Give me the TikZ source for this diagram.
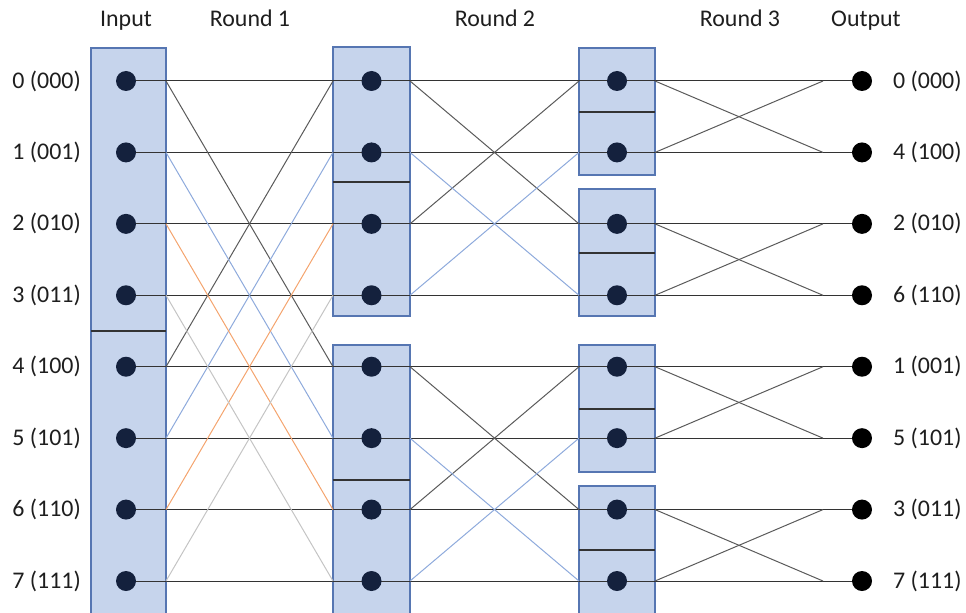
\documentclass[tikz,border=0pt]{standalone}
\usepackage{fontspec}
\setmainfont{Carlito}
\definecolor{boxfill}{HTML}{C6D4EC}
\definecolor{boxedge}{HTML}{5676B2}
\definecolor{navy}{HTML}{14213D}
\definecolor{wirec}{HTML}{333333}
\definecolor{darkx}{HTML}{5A5A5A}
\definecolor{bluex}{HTML}{8EAADC}
\definecolor{orangex}{HTML}{F4A46E}
\definecolor{grayx}{HTML}{C4C4C4}
\definecolor{txt}{HTML}{1E1E1E}
\pgfdeclarelayer{back}
\pgfdeclarelayer{mid}
\pgfsetlayers{back,mid,main}
\begin{document}
\begin{tikzpicture}[x=1bp,y=-1bp,
  box/.style={fill=boxfill, draw=boxedge, line width=1.2bp},
  divider/.style={draw=wirec, line width=1.2bp},
  indot/.style={circle, fill=navy, minimum size=20bp, inner sep=0pt},
  outdot/.style={circle, fill=black, minimum size=20bp, inner sep=0pt},
  wire/.style={draw=wirec, line width=1bp},
  xdark/.style={draw=darkx, line width=1bp},
  xblue/.style={draw=bluex, line width=1bp},
  xorange/.style={draw=orangex, line width=1bp},
  xgray/.style={draw=grayx, line width=1bp},
  lab/.style={font=\fontsize{24}{28}\selectfont, text=txt, inner sep=0pt},
  head/.style={lab, anchor=base},
]
\useasboundingbox (0,0) rectangle (966,613);

% boxes
\begin{pgfonlayer}{back}
\draw[box] (91,48) rectangle (166,616);
\draw[divider] (91,331) -- (166,331);
\draw[box] (333,47) rectangle (410,316);
\draw[divider] (333,182) -- (410,182);
\draw[box] (333,345) rectangle (410,616);
\draw[divider] (333,480) -- (410,480);
\draw[box] (579,48) rectangle (655,175);
\draw[divider] (579,112) -- (655,112);
\draw[box] (579,189) rectangle (655,316);
\draw[divider] (579,253) -- (655,253);
\draw[box] (579,345) rectangle (655,472);
\draw[divider] (579,409) -- (655,409);
\draw[box] (579,486) rectangle (655,616);
\draw[divider] (579,550) -- (655,550);
\end{pgfonlayer}

% headers
\node[head] (hIn) at (126,27) {Input};
\node[head] (hR1) at (250,27) {Round 1};
\node[head] (hR2) at (495,27) {Round 2};
\node[head] (hR3) at (740,27) {Round 3};
\node[head] (hOut) at (866,27) {Output};

% rows
\foreach \i/\inl/\outl in {0/0 (000)/0 (000),1/1 (001)/4 (100),2/2 (010)/2 (010),3/3 (011)/6 (110),4/4 (100)/1 (001),5/5 (101)/5 (101),6/6 (110)/3 (011),7/7 (111)/7 (111)}{
  \pgfmathsetmacro{\yy}{81+\i*71.43}
  \node[indot] (in\i) at (126,\yy) {};
  \node[indot] (a\i) at (371.5,\yy) {};
  \node[indot] (b\i) at (617,\yy) {};
  \node[outdot] (out\i) at (862,\yy) {};
  \coordinate (L1-\i) at (166,\yy);
  \coordinate (R1-\i) at (333,\yy);
  \coordinate (L2-\i) at (410,\yy);
  \coordinate (R2-\i) at (579,\yy);
  \coordinate (L3-\i) at (655,\yy);
  \coordinate (R3-\i) at (823,\yy);
  \node[lab, anchor=east] (li\i) at (81,\yy) {\inl};
  \node[lab, anchor=west] (lo\i) at (893,\yy) {\outl};
}

\begin{pgfonlayer}{mid}
% straight wires
\foreach \i in {0,...,7}{
  \draw[wire] (in\i.center) -- (out\i.center);
}
% round 1
\draw[xdark] (L1-0) -- (R1-4);
\draw[xdark] (L1-4) -- (R1-0);
\draw[xblue] (L1-1) -- (R1-5);
\draw[xblue] (L1-5) -- (R1-1);
\draw[xorange] (L1-2) -- (R1-6);
\draw[xorange] (L1-6) -- (R1-2);
\draw[xgray] (L1-3) -- (R1-7);
\draw[xgray] (L1-7) -- (R1-3);
% round 2
\draw[xdark] (L2-0) -- (R2-2);
\draw[xdark] (L2-2) -- (R2-0);
\draw[xblue] (L2-1) -- (R2-3);
\draw[xblue] (L2-3) -- (R2-1);
\draw[xdark] (L2-4) -- (R2-6);
\draw[xdark] (L2-6) -- (R2-4);
\draw[xblue] (L2-5) -- (R2-7);
\draw[xblue] (L2-7) -- (R2-5);
% round 3
\draw[xdark] (L3-0) -- (R3-1);
\draw[xdark] (L3-1) -- (R3-0);
\draw[xdark] (L3-2) -- (R3-3);
\draw[xdark] (L3-3) -- (R3-2);
\draw[xdark] (L3-4) -- (R3-5);
\draw[xdark] (L3-5) -- (R3-4);
\draw[xdark] (L3-6) -- (R3-7);
\draw[xdark] (L3-7) -- (R3-6);
\end{pgfonlayer}
\end{tikzpicture}
\end{document}
